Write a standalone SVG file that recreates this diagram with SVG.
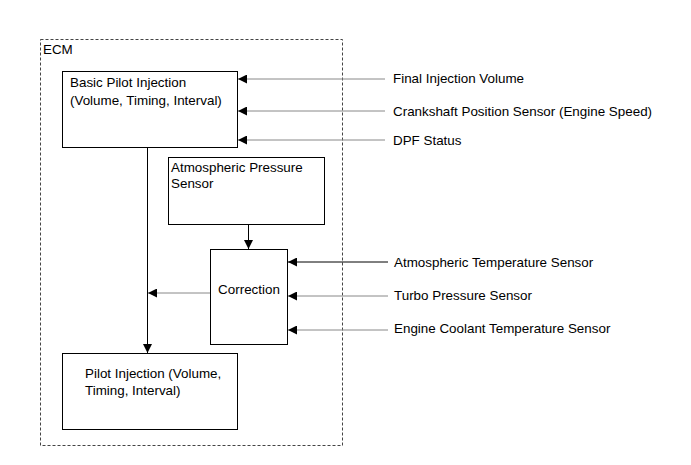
<svg xmlns="http://www.w3.org/2000/svg" width="691" height="465" viewBox="0 0 691 465">
<style>
text{font-family:"Liberation Sans",Arial,sans-serif;font-size:13.4px;fill:#000}
.box{fill:#fff;stroke:#000;stroke-width:1}
.g{stroke:#888;stroke-width:1;fill:none}
.k{stroke:#000;stroke-width:1;fill:none}
</style>
<defs>
<marker id="ah" viewBox="0 0 10 10" refX="10" refY="5" markerWidth="9" markerHeight="9" markerUnits="userSpaceOnUse" orient="auto">
<path d="M0,0L10,5L0,10z" fill="#000"/>
</marker>
</defs>
<rect width="691" height="465" fill="#fff"/>
<g id="ecm">
<rect x="40.5" y="39.5" width="302" height="406" fill="none" stroke="#444" stroke-dasharray="3,2"/>
<text x="43" y="54">ECM</text>
</g>
<g id="connectors">
<line class="g" x1="385" y1="79" x2="238" y2="79" marker-end="url(#ah)"/>
<line class="g" x1="385" y1="111" x2="238" y2="111" marker-end="url(#ah)"/>
<line class="g" x1="385" y1="140" x2="238" y2="140" marker-end="url(#ah)"/>
<line class="k" x1="147.5" y1="147" x2="147.5" y2="353" marker-end="url(#ah)"/>
<line class="k" x1="248.5" y1="224" x2="248.5" y2="249" marker-end="url(#ah)"/>
<line class="g" x1="210" y1="293" x2="148" y2="293" marker-end="url(#ah)"/>
<line class="k" x1="388" y1="262" x2="288" y2="262" marker-end="url(#ah)"/>
<line class="g" x1="388" y1="296" x2="288" y2="296" marker-end="url(#ah)"/>
<line class="g" x1="388" y1="330" x2="288" y2="330" marker-end="url(#ah)"/>
</g>
<g id="basic">
<rect class="box" x="62.5" y="71.5" width="175" height="76"/>
<text x="70" y="87">Basic Pilot Injection</text>
<text x="70" y="105">(Volume, Timing, Interval)</text>
</g>
<g id="atm">
<rect class="box" x="168.5" y="157.5" width="156" height="67"/>
<text x="171" y="172">Atmospheric Pressure</text>
<text x="171" y="188">Sensor</text>
</g>
<g id="correction">
<rect class="box" x="210.5" y="249.5" width="77" height="95"/>
<text x="249" y="294" text-anchor="middle">Correction</text>
</g>
<g id="pilot">
<rect class="box" x="62.5" y="353.5" width="175" height="76"/>
<text x="85" y="378">Pilot Injection (Volume,</text>
<text x="85" y="395">Timing, Interval)</text>
</g>
<g id="inputs">
<text x="393" y="83">Final Injection Volume</text>
<text x="393" y="116">Crankshaft Position Sensor (Engine Speed)</text>
<text x="393" y="145">DPF Status</text>
<text x="394" y="267">Atmospheric Temperature Sensor</text>
<text x="394" y="300">Turbo Pressure Sensor</text>
<text x="394" y="333">Engine Coolant Temperature Sensor</text>
</g>
</svg>
